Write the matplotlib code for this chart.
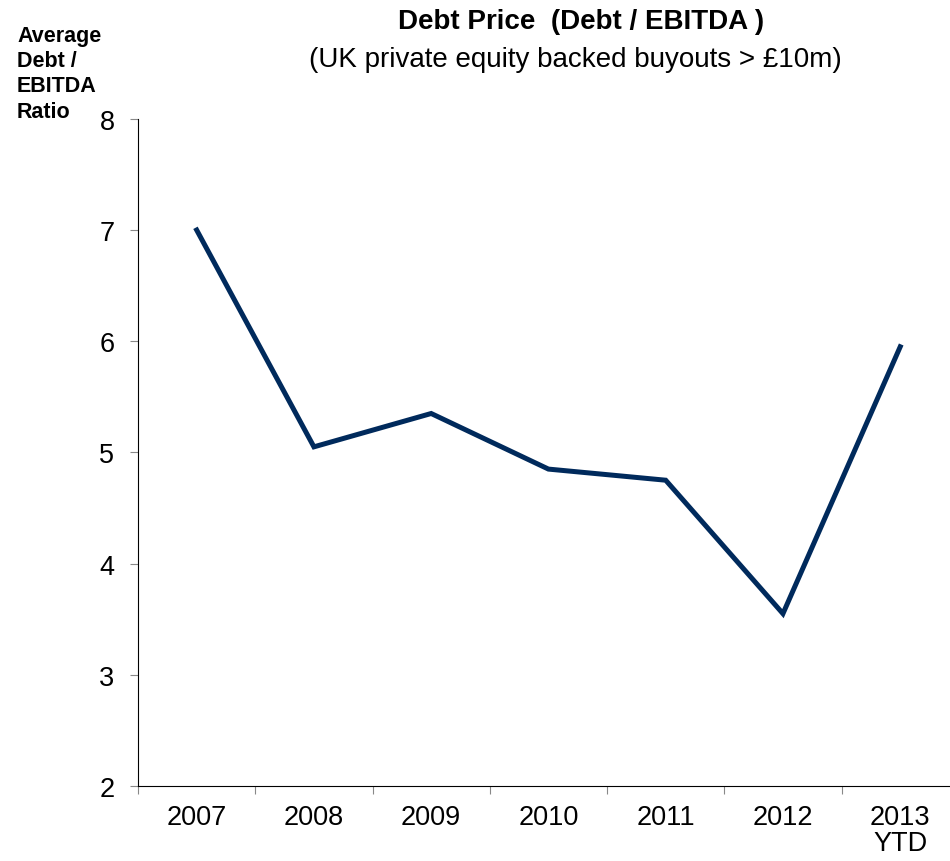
import matplotlib
matplotlib.use("Agg")
import matplotlib.pyplot as plt

years = ["2007", "2008", "2009", "2010", "2011", "2012", "2013\nYTD"]
ratio = [7.0, 5.05, 5.35, 4.85, 4.75, 3.55, 5.95]

plt.rcParams['font.family'] = ['Liberation Sans', 'DejaVu Sans']

fig = plt.figure(figsize=(9.5, 8.62), dpi=100)
ax = fig.add_axes([0.1453, 0.087, 0.864, 0.774])

x = range(len(years))
ax.plot(x, ratio, color='#002a5c', lw=3.6, solid_joinstyle='miter')

ax.set_xlim(-0.5, len(years) - 0.5)
ax.set_ylim(2, 8)
ax.set_yticks(range(2, 9))
# boundary ticks between categories, labels centred on categories
ax.set_xticks([i - 0.5 for i in range(len(years))], minor=False)
ax.set_xticklabels([])
ax.set_xticks(list(x), minor=True)
ax.set_xticklabels(years, minor=True, fontsize=19.5, linespacing=1.0)
ax.tick_params(axis='x', which='major', direction='out', length=6, color='#888888')
ax.tick_params(axis='x', which='minor', length=0, pad=13)
ax.tick_params(axis='y', direction='out', length=6, color='#888888', labelsize=19.5, pad=11)

for side in ['top', 'right']:
    ax.spines[side].set_visible(False)

fig.text(0.612, 0.974, 'Debt Price  (Debt / EBITDA )', ha='center', va='center',
         fontsize=20, fontweight='bold')
fig.text(0.606, 0.930, '(UK private equity backed buyouts > £10m)', ha='center', va='center',
         fontsize=20)
fig.text(0.018, 0.914, 'Average\nDebt /\nEBITDA\nRatio', ha='left', va='center',
         fontsize=15.5, fontweight='bold', linespacing=1.27)

fig.savefig('out.png', dpi=100)
